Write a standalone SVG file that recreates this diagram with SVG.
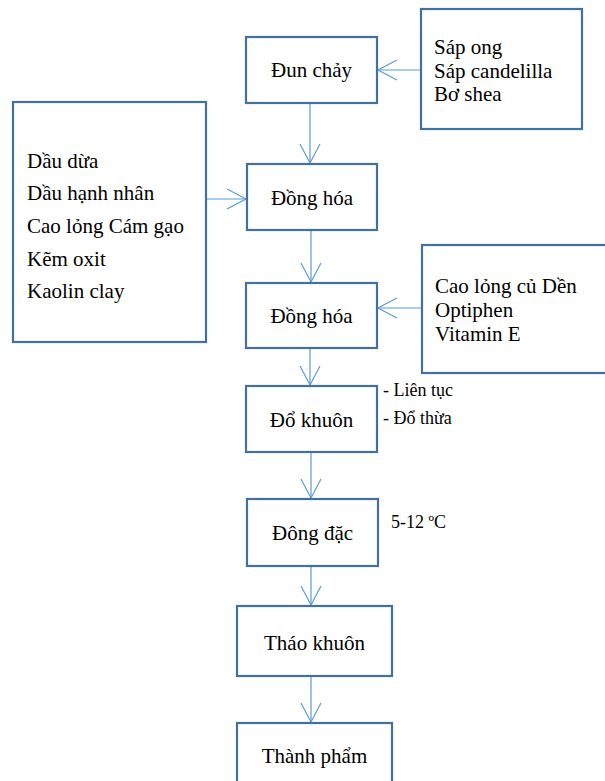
<svg xmlns="http://www.w3.org/2000/svg" width="605" height="781" viewBox="0 0 605 781">
<defs>
<marker id="arr" markerWidth="22" markerHeight="22" refX="20" refY="11" orient="auto" markerUnits="userSpaceOnUse">
<path d="M1,1 L20,11 L1,21" fill="none" stroke="#5B9BD5" stroke-width="1.2"/>
</marker>
</defs>
<style>
.box{fill:#fff;stroke:#41719C;stroke-width:2.2}
text{font-family:"Liberation Serif","Times New Roman",serif;fill:#000}
.t{font-size:21px}
.s{font-size:18px}
.ln{stroke:#5B9BD5;stroke-width:1.2;fill:none;marker-end:url(#arr)}
</style>
<rect width="605" height="781" fill="#fff"/>
<g id="connectors">
<line class="ln" x1="421" y1="70" x2="378" y2="70"/>
<line class="ln" x1="310" y1="103" x2="310" y2="163"/>
<line class="ln" x1="206" y1="199" x2="246" y2="199"/>
<line class="ln" x1="311" y1="230" x2="311" y2="282"/>
<line class="ln" x1="422" y1="308" x2="378" y2="308"/>
<line class="ln" x1="310" y1="348" x2="310" y2="385"/>
<line class="ln" x1="311" y1="452" x2="311" y2="498"/>
<line class="ln" x1="311" y1="566" x2="311" y2="605"/>
<line class="ln" x1="311" y1="676" x2="311" y2="722"/>
</g>
<g id="n_dunchay">
<rect class="box" x="246" y="37" width="131" height="66"/>
<text class="t" x="311.5" y="77" text-anchor="middle">Đun chảy</text>
</g>
<g id="n_sap">
<rect class="box" x="421" y="9" width="161" height="120"/>
<text class="t" x="434" y="54">Sáp ong</text>
<text class="t" x="434" y="78">Sáp candelilla</text>
<text class="t" x="434" y="101">Bơ shea</text>
</g>
<g id="n_dau">
<rect class="box" x="13" y="102" width="193" height="240"/>
<text class="t" x="27" y="168">Dầu dừa</text>
<text class="t" x="27" y="200">Dầu hạnh nhân</text>
<text class="t" x="27" y="233">Cao lỏng Cám gạo</text>
<text class="t" x="27" y="266">Kẽm oxit</text>
<text class="t" x="27" y="298">Kaolin clay</text>
</g>
<g id="n_donghoa1">
<rect class="box" x="247" y="164" width="130" height="66"/>
<text class="t" x="312" y="205" text-anchor="middle">Đồng hóa</text>
</g>
<g id="n_donghoa2">
<rect class="box" x="246" y="283" width="131" height="65"/>
<text class="t" x="311.5" y="323" text-anchor="middle">Đồng hóa</text>
</g>
<g id="n_caolong">
<rect class="box" x="422" y="245" width="200" height="128"/>
<text class="t" x="435" y="293">Cao lỏng củ Dền</text>
<text class="t" x="435" y="317">Optiphen</text>
<text class="t" x="435" y="341">Vitamin E</text>
</g>
<g id="n_dokhuon">
<rect class="box" x="246" y="386" width="131" height="66"/>
<text class="t" x="311.5" y="427" text-anchor="middle">Đổ khuôn</text>
<text class="s" x="383" y="396">- Liên tục</text>
<text class="s" x="383" y="424">- Đổ thừa</text>
</g>
<g id="n_dongdac">
<rect class="box" x="247" y="499" width="131" height="67"/>
<text class="t" x="312.5" y="540" text-anchor="middle">Đông đặc</text>
<text class="s" x="391" y="528">5-12 ºC</text>
</g>
<g id="n_thaokhuon">
<rect class="box" x="237" y="606" width="155" height="70"/>
<text class="t" x="314.5" y="650" text-anchor="middle">Tháo khuôn</text>
</g>
<g id="n_thanhpham">
<rect class="box" x="237" y="723" width="155" height="80"/>
<text class="t" x="314.5" y="763" text-anchor="middle">Thành phẩm</text>
</g>
</svg>
